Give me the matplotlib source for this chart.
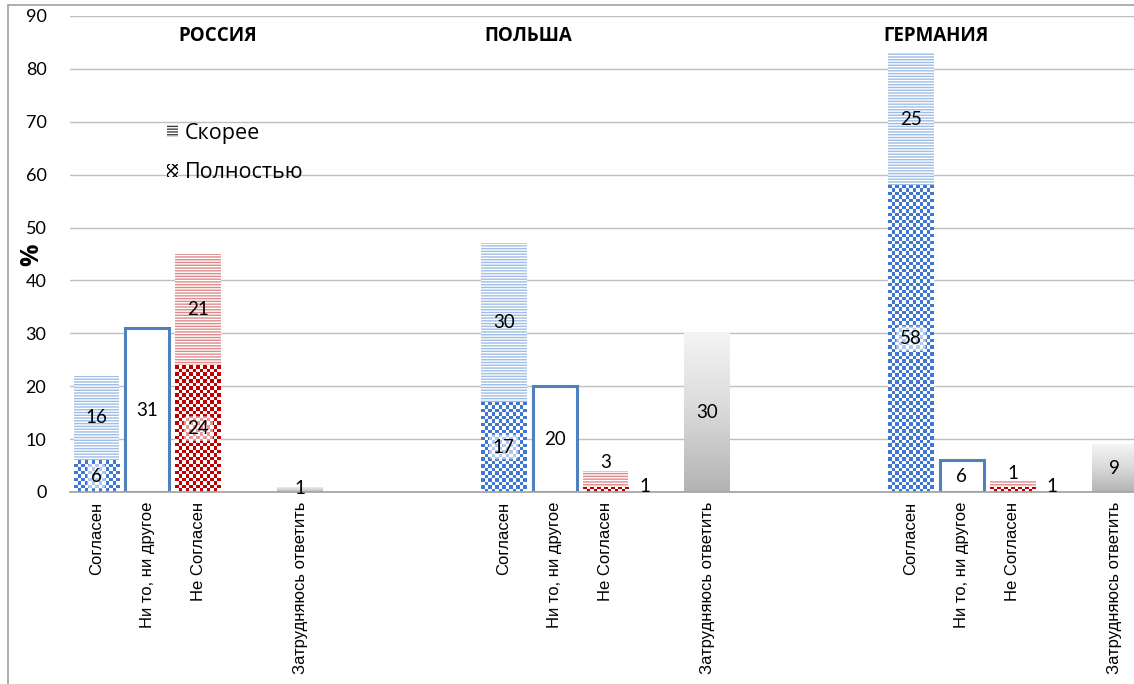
import numpy as np
import matplotlib
matplotlib.use("Agg")
import matplotlib.pyplot as plt
from matplotlib.colors import ListedColormap, LinearSegmentedColormap
from matplotlib.patches import Patch, Rectangle

# data (percent)
groups = ['РОССИЯ', 'ПОЛЬША', 'ГЕРМАНИЯ']
answers = ['Согласен', 'Ни то, ни другое', 'Не Согласен', 'Затрудняюсь ответить']
agree_full = [6, 17, 58]
agree_rather = [16, 30, 25]
neither = [31, 20, 6]
disagree_full = [24, 1, 1]
disagree_rather = [21, 3, 1]
hard_to_say = [1, 30, 9]

# layout: slot of each answer inside a group, first slot of each group
answer_slot = [0, 1, 2, 4]
group_start = [0, 8, 16]
title_x = [2.39, 8.48, 16.49]
bar_w = 0.9

blue = '#3f78d4'
blue_stripe = '#9fbde6'
red = '#c00000'
red_stripe = '#dc8a8a'
box_edge = '#4f81bd'

plt.rcParams['hatch.linewidth'] = 1.0
num_font = ['Lato', 'DejaVu Sans']
txt_font = ['Open Sans', 'DejaVu Sans']

fig = plt.figure(figsize=(11.34, 6.84), dpi=100)
ax = fig.add_axes([70 / 1134, 1 - 492 / 684, 1 - 70 / 1134, (492 - 16) / 684])
xlim = (-0.52, 20.38)
ax.set_xlim(*xlim)
ax.set_ylim(0, 90)


def checker(patch, color, cell=3.5):
    x0, y0 = patch.get_x(), patch.get_y()
    x1, y1 = x0 + patch.get_width(), y0 + patch.get_height()
    (px0, py0), (px1, py1) = ax.transData.transform([(x0, y0), (x1, y1)])
    nx = max(1, int(round((px1 - px0) / cell)))
    ny = max(1, int(round((py1 - py0) / cell)))
    grid = np.add.outer(np.arange(ny), np.arange(nx)) % 2
    im = ax.imshow(grid, extent=(x0, x1, y0, y1), origin='lower',
                   cmap=ListedColormap(['white', color]), interpolation='nearest',
                   aspect='auto', zorder=2)
    im.set_clip_path(patch)


def gradient(patch):
    x0, y0 = patch.get_x(), patch.get_y()
    x1, y1 = x0 + patch.get_width(), y0 + patch.get_height()
    g = np.linspace(0, 1, 128).reshape(-1, 1)
    cm = LinearSegmentedColormap.from_list('g', ['#b3b3b3', '#d9d9d9', '#f4f4f4'])
    im = ax.imshow(g, extent=(x0, x1, y0, y1), origin='lower', cmap=cm,
                   aspect='auto', zorder=2)
    im.set_clip_path(patch)


def label(x, y, s, box=False):
    kw = dict(ha='center', va='center', fontsize=13.5, family=num_font, zorder=5)
    if box:
        kw['bbox'] = dict(boxstyle='round,pad=0.2', fc='white', ec='none', alpha=0.6)
    ax.text(x, y, s, **kw)


tick_pos = []
tick_lab = []
for g in range(len(groups)):
    xs = [group_start[g] + s for s in answer_slot]
    tick_pos += xs
    tick_lab += answers

    # agree: full + rather
    p = ax.bar(xs[0], agree_full[g], bar_w, color='none', lw=0, zorder=2)[0]
    checker(p, blue)
    ax.bar(xs[0], agree_rather[g], bar_w, bottom=agree_full[g], color='white',
           edgecolor=blue_stripe, hatch='------', lw=0, zorder=2)
    label(xs[0], agree_full[g] / 2, str(agree_full[g]), box=True)
    label(xs[0], agree_full[g] + agree_rather[g] / 2, str(agree_rather[g]))

    # neither
    ax.bar(xs[1], neither[g], bar_w - 0.04, color='white', edgecolor=box_edge,
           lw=2.2, zorder=2)
    label(xs[1], neither[g] / 2, str(neither[g]))

    # disagree: full + rather
    p = ax.bar(xs[2], disagree_full[g], bar_w, color='none', lw=0, zorder=2)[0]
    checker(p, red)
    ax.bar(xs[2], disagree_rather[g], bar_w, bottom=disagree_full[g], color='white',
           edgecolor=red_stripe, hatch='------', lw=0, zorder=2)
    top = disagree_full[g] + disagree_rather[g]
    if disagree_rather[g] < 5:
        label(xs[2], top + 1.5, str(disagree_rather[g]))
        label(xs[2] + 0.77, 1.1, str(disagree_full[g]))
    else:
        label(xs[2], disagree_full[g] / 2, str(disagree_full[g]), box=True)
        label(xs[2], disagree_full[g] + disagree_rather[g] / 2, str(disagree_rather[g]))

    # hard to say
    p = ax.bar(xs[3], hard_to_say[g], bar_w, color='none', lw=0, zorder=2)[0]
    gradient(p)
    label(xs[3], max(hard_to_say[g] / 2, 0.6), str(hard_to_say[g]))

    # group title
    ax.text(title_x[g], 86.2, groups[g], ha='center', va='center',
            fontsize=13.5, fontweight='bold', family=txt_font)

ax.set_xlim(*xlim)
ax.set_ylim(0, 90)
ax.set_yticks(np.arange(0, 91, 10))
ax.set_xticks(tick_pos)
ax.set_xticklabels(tick_lab, rotation=90, va='top', ha='center', fontsize=12,
                   family=['Liberation Sans', 'DejaVu Sans'])
for t in ax.get_yticklabels():
    t.set_family(num_font)
    t.set_fontsize(13)
ax.tick_params(axis='both', length=0)
ax.tick_params(axis='y', pad=17)
ax.tick_params(axis='x', pad=7)
ax.grid(axis='y', color='#bfbfbf', lw=1.0, zorder=0)
ax.set_axisbelow(True)
for side in ['left', 'right', 'top']:
    ax.spines[side].set_visible(False)
ax.spines['bottom'].set_color('#a6a6a6')
ax.spines['bottom'].set_linewidth(1.3)
ax.spines['bottom'].set_zorder(4)

fig.text(32 / 1134, 1 - 255 / 684, '%', rotation=90, ha='center', va='center',
         fontsize=18, fontweight='bold', family=txt_font)

handles = [Patch(facecolor='white', edgecolor='#404040', hatch='------', lw=0, label='Скорее'),
           Patch(facecolor='white', edgecolor='black', hatch='xxxx', lw=0, label='Полностью')]
ax.legend(handles=handles, loc='upper left', bbox_to_anchor=(158 / 1134, 1 - 114 / 684),
          bbox_transform=fig.transFigure, frameon=False, prop={'family': txt_font, 'size': 15.5},
          handlelength=0.55, handleheight=0.55, handletextpad=0.3, labelspacing=0.85,
          borderaxespad=0)

# chart frame
fig.add_artist(Rectangle((8 / 1134, -0.1), 1.2, 1 - 5 / 684 + 0.1, transform=fig.transFigure,
                         fill=False, ec='#a0a0a0', lw=1.2))

fig.savefig('out.png', dpi=100)
